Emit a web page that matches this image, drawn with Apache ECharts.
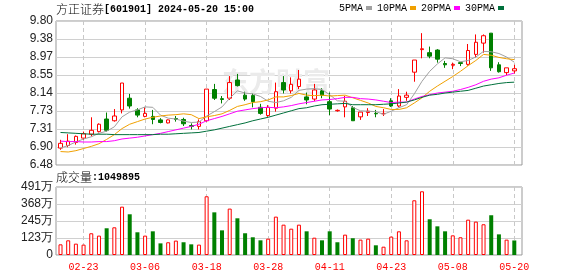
<!DOCTYPE html>
<html><head><meta charset="utf-8">
<script src="https://cdn.jsdelivr.net/npm/echarts@6/dist/echarts.min.js"></script>
<style>html,body{margin:0;padding:0;background:#fff}#c{width:578px;height:276px}</style>
</head><body><div id="c"></div>
<script>
// ---------------- data ----------------
const dates = ['02-20','02-21','02-22','02-23','02-26','02-27','02-28','02-29','03-01','03-04',
  '03-05','03-06','03-07','03-08','03-11','03-12','03-13','03-14','03-15','03-18',
  '03-19','03-20','03-21','03-22','03-25','03-26','03-27','03-28','03-29','04-01',
  '04-02','04-03','04-08','04-09','04-10','04-11','04-12','04-15','04-16','04-17',
  '04-18','04-19','04-22','04-23','04-24','04-25','04-26','04-29','04-30','05-06',
  '05-07','05-08','05-09','05-10','05-13','05-14','05-15','05-16','05-17','05-20'];
const openP = [6.87,6.93,7.00,7.10,7.19,7.25,7.54,7.50,7.75,8.02,7.75,7.60,7.60,7.52,7.45,7.55,7.53,7.39,7.37,7.50,
  8.22,8.01,8.02,8.44,8.09,8.08,7.81,7.62,7.79,8.38,8.19,8.29,8.05,8.00,8.19,7.94,7.73,7.82,7.80,7.59,
  7.69,7.67,7.66,7.96,7.84,8.04,8.62,9.14,9.07,9.13,8.82,8.78,8.84,8.80,9.03,9.29,9.52,8.79,8.61,8.65];
const closeP = [6.98,7.03,7.14,7.20,7.28,7.42,7.28,7.61,8.37,7.84,7.63,7.67,7.53,7.46,7.52,7.53,7.43,7.37,7.48,8.23,
  8.02,7.99,8.38,8.31,8.00,7.94,7.67,7.81,8.17,8.21,8.34,8.46,7.98,8.21,8.09,7.77,7.74,7.95,7.50,7.70,
  7.72,7.66,7.67,7.84,8.07,8.09,8.90,9.16,8.99,8.92,8.79,8.80,8.82,9.12,9.31,9.46,8.72,8.63,8.72,8.70];
const lowP = [6.83,6.89,6.95,7.06,7.14,7.23,7.25,7.48,7.67,7.78,7.58,7.58,7.42,7.44,7.44,7.48,7.38,7.30,7.30,7.48,
  7.98,7.90,7.98,8.29,7.96,7.81,7.64,7.59,7.71,8.13,8.13,8.23,7.88,7.95,8.02,7.63,7.71,7.58,7.50,7.52,
  7.61,7.58,7.61,7.82,7.81,7.96,8.40,8.94,8.94,8.84,8.72,8.69,8.76,8.77,8.96,9.07,8.65,8.61,8.55,8.59];
const highP = [7.06,7.19,7.16,7.25,7.58,7.44,7.69,7.77,8.37,8.12,7.79,7.81,7.75,7.56,7.53,7.61,7.57,7.44,7.53,8.23,
  8.35,8.07,8.53,8.58,8.17,8.13,7.89,7.86,8.38,8.53,8.50,8.67,8.15,8.35,8.25,8.15,7.76,8.07,7.84,7.70,
  7.79,7.75,7.77,8.02,8.23,8.17,8.90,9.52,9.21,9.15,8.88,8.84,8.86,9.27,9.49,9.49,9.52,8.85,8.72,8.79];
const volume = [770000,1060000,820000,750000,1570000,1400000,1930000,2000000,3490000,2940000,
  1640000,1400000,1710000,840000,920000,1040000,920000,770000,750000,4240000,
  3080000,1780000,3350000,2650000,1570000,1280000,1060000,1180000,2770000,2190000,
  1900000,2190000,1710000,1250000,1060000,1710000,920000,1470000,1210000,1110000,
  1180000,700000,600000,1330000,1710000,1060000,3950000,4600000,2580000,2070000,
  1710000,1420000,1280000,2550000,2410000,2220000,2870000,1490000,1110000,1049895];
const volUp = [1,1,1,1,1,1,0,1,1,0,0,1,0,0,1,1,0,0,1,1,
  0,0,1,0,0,0,0,1,1,1,1,1,0,1,0,0,0,1,0,1,
  1,0,1,1,1,1,1,1,0,0,0,1,1,1,1,1,0,0,1,0];
const ma5 = [6.87,6.93,7.01,7.08,7.13,7.21,7.26,7.36,7.59,7.70,7.75,7.82,7.81,7.63,7.56,7.54,7.49,7.46,7.47,7.61,
  7.71,7.82,8.02,8.19,8.14,8.12,8.06,7.95,7.92,7.96,8.04,8.20,8.23,8.24,8.22,8.10,7.96,7.95,7.81,7.73,
  7.72,7.71,7.65,7.72,7.80,7.87,8.12,8.41,8.64,8.81,8.95,8.93,8.86,8.89,8.97,9.10,9.09,9.05,8.97,8.85];
const ma10 = [6.79,6.78,6.81,6.86,6.91,6.97,7.07,7.18,7.32,7.42,7.48,7.54,7.58,7.61,7.63,7.64,7.66,7.64,7.55,7.59,
  7.62,7.66,7.74,7.83,7.87,7.92,7.94,7.98,8.05,8.05,8.08,8.13,8.09,8.08,8.09,8.07,8.08,8.09,8.03,7.97,
  7.91,7.83,7.80,7.76,7.76,7.80,7.91,8.03,8.18,8.30,8.41,8.52,8.64,8.77,8.89,9.03,9.01,8.96,8.93,8.91];
const ma20 = [7.03,7.02,7.02,7.01,7.01,7.02,7.02,7.04,7.08,7.10,7.12,7.15,7.18,7.21,7.25,7.29,7.33,7.37,7.42,7.50,
  7.55,7.60,7.66,7.72,7.75,7.78,7.80,7.81,7.80,7.82,7.85,7.89,7.92,7.95,7.98,7.99,8.01,8.04,8.04,8.01,
  8.00,7.98,7.95,7.92,7.93,7.93,8.00,8.06,8.10,8.14,8.16,8.18,8.22,8.27,8.33,8.41,8.46,8.49,8.55,8.60];
const ma30 = [7.23,7.22,7.21,7.20,7.19,7.19,7.19,7.18,7.18,7.18,7.18,7.18,7.18,7.19,7.19,7.20,7.21,7.22,7.23,7.26,
  7.29,7.33,7.37,7.41,7.45,7.50,7.54,7.58,7.63,7.68,7.73,7.78,7.80,7.84,7.87,7.88,7.89,7.90,7.87,7.87,
  7.87,7.87,7.88,7.89,7.91,7.93,7.98,8.04,8.09,8.11,8.14,8.16,8.18,8.20,8.25,8.30,8.33,8.36,8.38,8.39];
const priceTickLabels = ['6.48','6.90','7.31','7.73','8.14','8.55','8.97','9.38','9.80'];
const volTickLabels = ['0','123万','245万','368万','491万'];
const xTickLabels = ['02-23','03-06','03-18','03-28','04-11','04-23','05-08','05-20'];
const titleName = '方正证券';
const titleRest = '[601901] 2024-05-20 15:00';
const volTitle = '成交量';
const lastVolume = '1049895';
const maNames = ['5PMA','10PMA','20PMA','30PMA'];

// ---------------- chart ----------------
const PMIN = 6.48, PMAX = 9.80, PSTEP = 0.415;
const VMAX = 4910000, VSTEP = 1227500;
const RED = '#ff0000', GREEN = '#008000';
const MA_COLORS = ['#a0a0a0', '#f0a000', '#ff00ff', '#00703c'];
const MONO = "'Liberation Mono', monospace";
const CJK = "'Noto Sans CJK SC', sans-serif";
const NUM = "'Liberation Sans', Arial, sans-serif";
const FRAME = {left: 56, width: 466};
const DATA = {left: 60.5, width: 453.8};
const MAIN = {top: 21, height: 144};
const VOL = {top: 187, height: 68};

const chart = echarts.init(document.getElementById('c'), null, {renderer: 'canvas'});
const xSet = new Set(xTickLabels);
const dashedSplit = {show: true, interval: (i, v) => xSet.has(v), lineStyle: {color: '#c8c8c8', type: [4, 3], width: 1}};
const hiddenCat = (gi, showLabel) => ({
  type: 'category', gridIndex: gi, data: dates, boundaryGap: false,
  axisLine: {show: false}, axisTick: {show: false},
  axisLabel: showLabel ? {show: true, interval: (i, v) => xSet.has(v), color: RED, fontFamily: MONO, fontSize: 10, margin: 7} : {show: false},
  splitLine: dashedSplit
});

const option = {
  animation: false,
  backgroundColor: '#fff',
  title: [
    {text: '{a|' + titleName + '}{b|' + titleRest + '}', left: 56, top: 3, padding: 0,
     textStyle: {rich: {a: {fontFamily: CJK, fontSize: 12, fontWeight: 300, color: '#000'}, b: {fontFamily: MONO, fontSize: 10, color: '#000'}}}},
    {text: '{a|' + volTitle + '}{b|:' + lastVolume + '}', left: 56, top: 171, padding: 0,
     textStyle: {rich: {a: {fontFamily: CJK, fontSize: 12, fontWeight: 300, color: '#000'}, b: {fontFamily: MONO, fontSize: 10, color: '#000'}}}}
  ],
  legend: {
    left: 339, top: 3, padding: 0, itemGap: 5, itemWidth: 6, itemHeight: 4, align: 'right',
    selectedMode: false, icon: 'rect',
    textStyle: {fontFamily: MONO, fontSize: 10, color: '#000', padding: [0, -2, 0, 0]},
    data: maNames
  },
  graphic: [{
    type: 'text', left: 222, top: 68, z: 1, silent: true,
    style: {text: '东方财富', font: "bold 27px 'Noto Sans CJK SC'", fill: '#ebebeb', letterSpacing: 10}
  }],
  grid: [
    {left: FRAME.left, width: FRAME.width, top: MAIN.top, height: MAIN.height, show: true, borderColor: '#999', borderWidth: 1, backgroundColor: 'transparent'},
    {left: DATA.left, width: DATA.width, top: MAIN.top, height: MAIN.height},
    {left: FRAME.left, width: FRAME.width, top: VOL.top, height: VOL.height, show: true, borderColor: '#999', borderWidth: 1, backgroundColor: 'transparent'},
    {left: DATA.left, width: DATA.width, top: VOL.top, height: VOL.height}
  ],
  xAxis: [
    {type: 'value', gridIndex: 0, min: 0, max: 1, show: false},
    hiddenCat(1, false),
    {type: 'value', gridIndex: 2, min: 0, max: 1, show: false},
    hiddenCat(3, true)
  ],
  yAxis: [
    {type: 'value', gridIndex: 0, min: PMIN, max: PMAX, interval: PSTEP,
     axisLine: {show: false}, axisTick: {show: false},
     axisLabel: {color: '#222', fontFamily: NUM, fontSize: 12, margin: 3,
       formatter: v => priceTickLabels[Math.round((v - PMIN) / PSTEP)] || ''},
     splitLine: {show: true, lineStyle: {color: '#d0d0d0', width: 1}}},
    {type: 'value', gridIndex: 1, min: PMIN, max: PMAX, show: false},
    {type: 'value', gridIndex: 2, min: 0, max: VMAX, interval: VSTEP,
     axisLine: {show: false}, axisTick: {show: false},
     axisLabel: {color: '#222', fontFamily: NUM, fontSize: 12, margin: 3,
       formatter: v => volTickLabels[Math.round(v / VSTEP)] || ''},
     splitLine: {show: true, lineStyle: {color: '#d0d0d0', width: 1}}},
    {type: 'value', gridIndex: 3, min: 0, max: VMAX, show: false}
  ],
  series: [
    {type: 'candlestick', name: 'K', xAxisIndex: 1, yAxisIndex: 1, clip: false, barWidth: 4, z: 3,
     data: dates.map((d, i) => [openP[i], closeP[i], lowP[i], highP[i]]),
     itemStyle: {color: '#fff', color0: GREEN, borderColor: RED, borderColor0: GREEN, borderWidth: 1}},
    ...[ma5, ma10, ma20, ma30].map((arr, k) => ({
      type: 'line', name: maNames[k], xAxisIndex: 1, yAxisIndex: 1, data: arr,
      symbol: 'none', showSymbol: false, z: 4, color: MA_COLORS[k],
      lineStyle: {color: MA_COLORS[k], width: 1}, itemStyle: {color: MA_COLORS[k]}
    })),
    {type: 'bar', name: 'VOL', xAxisIndex: 3, yAxisIndex: 3, barWidth: 4, clip: false, z: 3,
     data: volume.map((v, i) => ({value: v, itemStyle: volUp[i]
       ? {color: '#fff', borderColor: RED, borderWidth: 1}
       : {color: GREEN, borderColor: GREEN, borderWidth: 0}}))}
  ]
};
chart.setOption(option);
</script>
</body></html>
